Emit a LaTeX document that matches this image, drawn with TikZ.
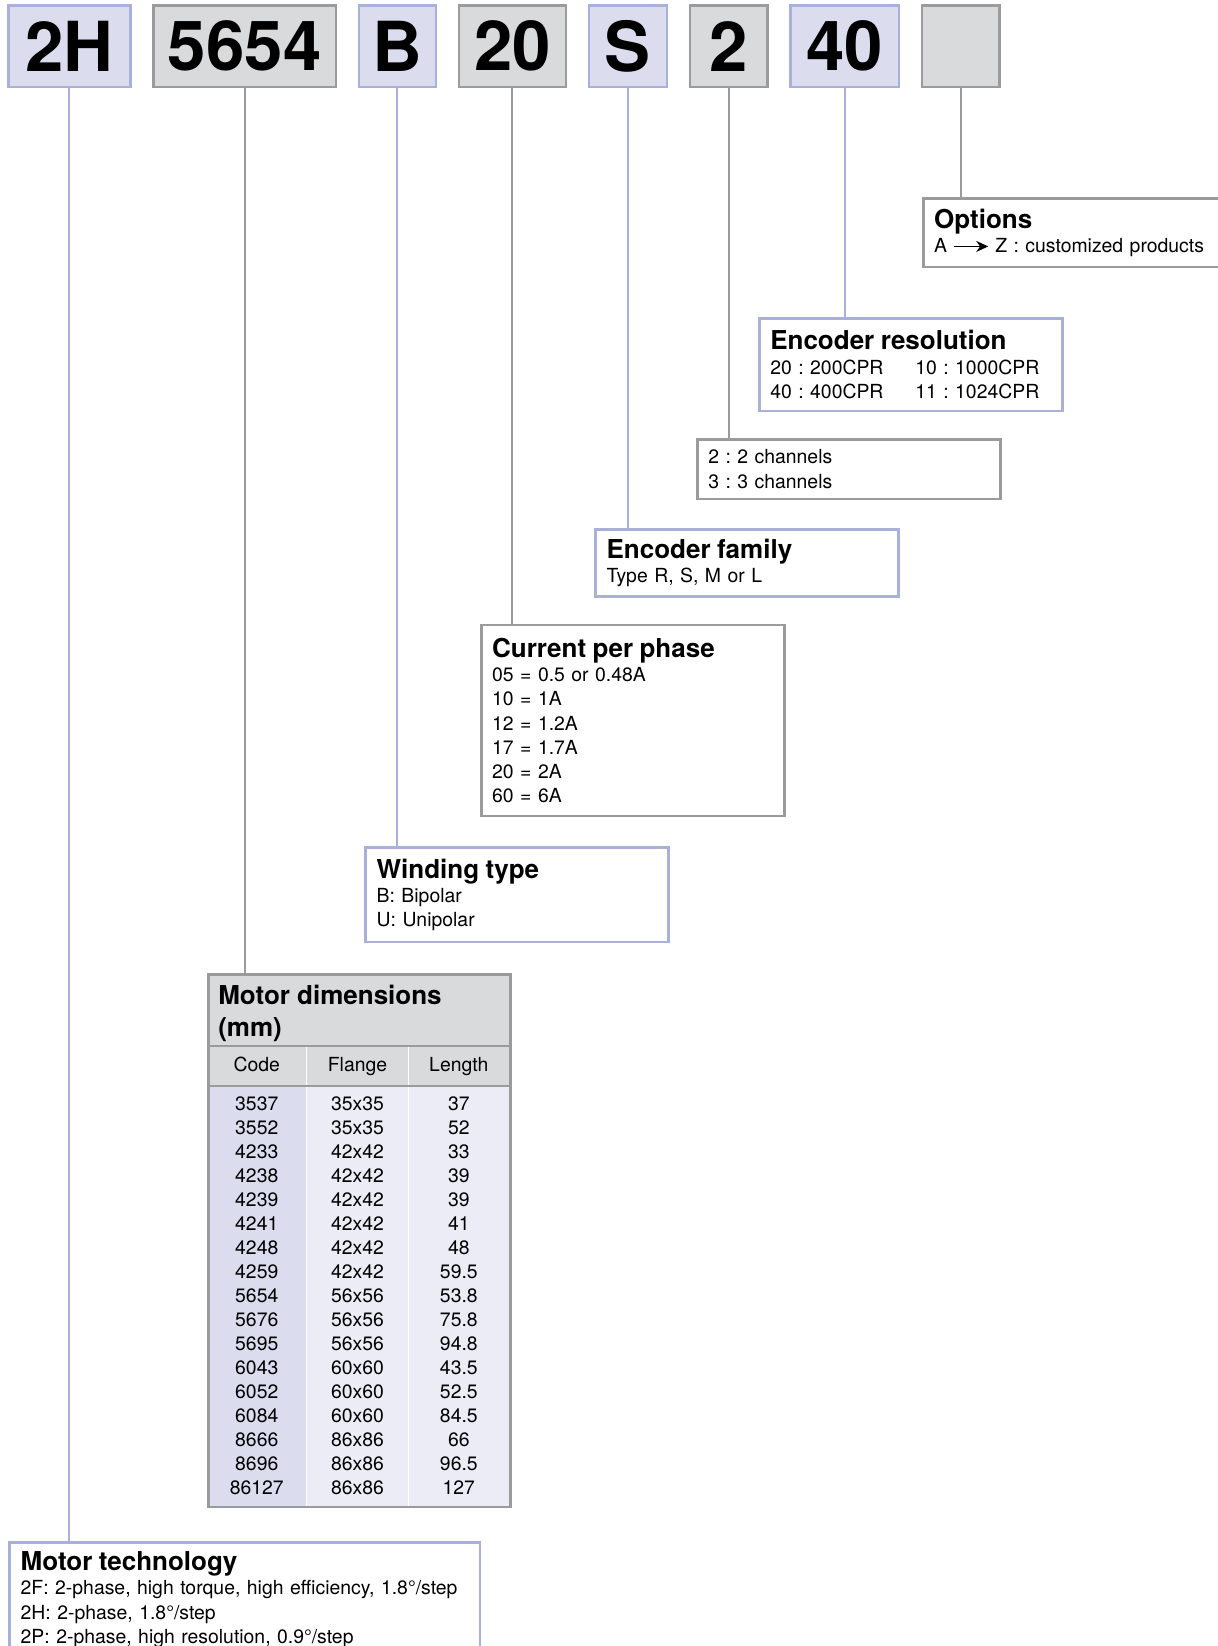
\documentclass[tikz,border=0pt]{standalone}
\usepackage{fontspec}
\setmainfont{TeX Gyre Heros}
\usepackage{tikz}
\usetikzlibrary{arrows.meta}
\frenchspacing

\definecolor{lavfill}{HTML}{DCDCEF}
\definecolor{lavlight}{HTML}{ECECF6}
\definecolor{lavline}{HTML}{A9B0DA}
\definecolor{greyfill}{HTML}{D9DADB}
\definecolor{greyline}{HTML}{9B9B9B}

\newcommand{\boxhead}[1]{{\fontsize{13}{12.1}\selectfont\bfseries #1}}
\newcommand{\arrowAZ}{\tikz[baseline=-0.6ex]\draw[line width=0.6pt, -{Stealth[length=6pt, width=5.5pt]}] (0pt,0pt) -- (17pt,0pt);}

\begin{document}
\begin{tikzpicture}[x=0.5pt, y=-0.5pt,
    codebox/.style={draw, line width=1.3pt, minimum height=40.9pt, inner sep=0pt, font=\fontsize{34.5}{40}\selectfont\bfseries},
    lavcode/.style={codebox, draw=lavline, fill=lavfill},
    greycode/.style={codebox, draw=greyline, fill=greyfill},
    infobox/.style={draw, line width=1.3pt, anchor=north west, inner xsep=5.5pt, inner ysep=4pt, text width=140.5pt, align=left, font=\fontsize{9.7}{12.1}\selectfont},
    lavbox/.style={infobox, draw=lavline},
    greybox/.style={infobox, draw=greyline},
    lavconn/.style={draw=lavline, line width=1pt},
    greyconn/.style={draw=greyline, line width=1pt},
    cell/.style={anchor=base, inner sep=0pt, font=\fontsize{9.7}{12.1}\selectfont}
]
    \useasboundingbox[fill=white] (0,0) rectangle (1218,1646);

    % code boxes
    \node[lavcode, minimum width=60.9pt] (c2H) at (69.3,46.1) {2H};
    \node[greycode, minimum width=91.35pt] (c5654) at (244.65,46.1) {5654};
    \node[lavcode, minimum width=38.35pt] (cB) at (397.45,46.1) {B};
    \node[greycode, minimum width=53.55pt] (c20) at (512.45,46.1) {20};
    \node[lavcode, minimum width=38.9pt] (cS) at (627.9,46.1) {S};
    \node[greycode, minimum width=38.85pt] (c2) at (728.75,46.1) {2};
    \node[lavcode, minimum width=54.05pt] (c40) at (844.75,46.1) {40};
    \node[greycode, minimum width=38.85pt] (copt) at (960.75,46.1) {};

    \node[greybox, minimum height=34.15pt, text width=160pt] (opts) at (921.9,197.4)
        {\boxhead{Options}\\A \arrowAZ{} Z : customized products};
    \node[lavbox, minimum height=46.25pt] (res) at (758,317)
        {\boxhead{Encoder resolution}\\\makebox[72.5pt][l]{20 : 200CPR}10 : 1000CPR\\\makebox[72.5pt][l]{40 : 400CPR}11 : 1024CPR};
    \node[greybox, minimum height=29.9pt] (chan) at (696,437.9)
        {2 : 2 channels\\3 : 3 channels};
    \node[lavbox, minimum height=33.7pt] (fam) at (594.3,528)
        {\boxhead{Encoder family}\\Type R, S, M or L};
    \node[greybox, minimum height=95.55pt] (cur) at (479.9,623.7)
        {\boxhead{Current per phase}\\05 = 0.5 or 0.48A\\10 = 1A\\12 = 1.2A\\17 = 1.7A\\20 = 2A\\60 = 6A};
    \node[lavbox, minimum height=47.25pt] (wind) at (364.4,846.3)
        {\boxhead{Winding type}\\B: Bipolar\\U: Unipolar};
    \node[lavbox, minimum height=57pt, text width=224.2pt] (tech) at (8.4,1541.4)
        {\boxhead{Motor technology}\\2F: 2-phase, high torque, high efficiency, 1.8°/step\\2H: 2-phase, 1.8°/step\\2P: 2-phase, high resolution, 0.9°/step};

    % motor dimensions table
    \fill[greyfill] (206.9,973.4) rectangle (509.25,1085.7);
    \fill[lavfill] (206.9,1085.7) rectangle (306.6,1505.7);
    \fill[lavlight] (306.6,1085.7) rectangle (509.25,1505.7);
    \draw[white, line width=0.8pt] (306.6,1045.8) -- (306.6,1505.7);
    \draw[white, line width=0.8pt] (408.45,1045.8) -- (408.45,1505.7);
    \draw[greyline, line width=1pt] (206.9,1045.8) -- (509.25,1045.8);
    \draw[greyline, line width=1pt] (206.9,1085.7) -- (509.25,1085.7);
    \node[greybox, minimum width=151.2pt, minimum height=266.15pt, text width=, inner sep=0pt] (dims) at (206.9,973.4) {};
    \node[anchor=north west, inner xsep=5.5pt, inner ysep=5.8pt, align=left, font=\fontsize{13}{15.75}\selectfont\bfseries] (dimtitle) at (206.9,973.4)
        {Motor dimensions\\(mm)};
    \node[cell] (hcode) at (256.75,1071.7) {Code};
    \node[cell] (hflange) at (357.5,1071.7) {Flange};
    \node[cell] (hlength) at (458.85,1071.7) {Length};
    \foreach \cod/\fla/\lgt [count=\i from 0] in {3537/35x35/37, 3552/35x35/52, 4233/42x42/33,
        4238/42x42/39, 4239/42x42/39, 4241/42x42/41, 4248/42x42/48, 4259/42x42/59.5,
        5654/56x56/53.8, 5676/56x56/75.8, 5695/56x56/94.8, 6043/60x60/43.5, 6052/60x60/52.5,
        6084/60x60/84.5, 8666/86x86/66, 8696/86x86/96.5, 86127/86x86/127} {
        \node[cell] (code\i) at (256.75,{1110.6+24.02*\i}) {\cod};
        \node[cell] (flange\i) at (357.5,{1110.6+24.02*\i}) {\fla};
        \node[cell] (length\i) at (458.85,{1110.6+24.02*\i}) {\lgt};
    }

    % connectors
    \draw[lavconn] (c2H) -- (c2H |- tech.north);
    \draw[greyconn] (c5654) -- (c5654 |- dims.north);
    \draw[lavconn] (cB) -- (cB |- wind.north);
    \draw[greyconn] (c20) -- (c20 |- cur.north);
    \draw[lavconn] (cS) -- (cS |- fam.north);
    \draw[greyconn] (c2) -- (c2 |- chan.north);
    \draw[lavconn] (c40) -- (c40 |- res.north);
    \draw[greyconn] (copt) -- (copt |- opts.north);
\end{tikzpicture}
\end{document}
